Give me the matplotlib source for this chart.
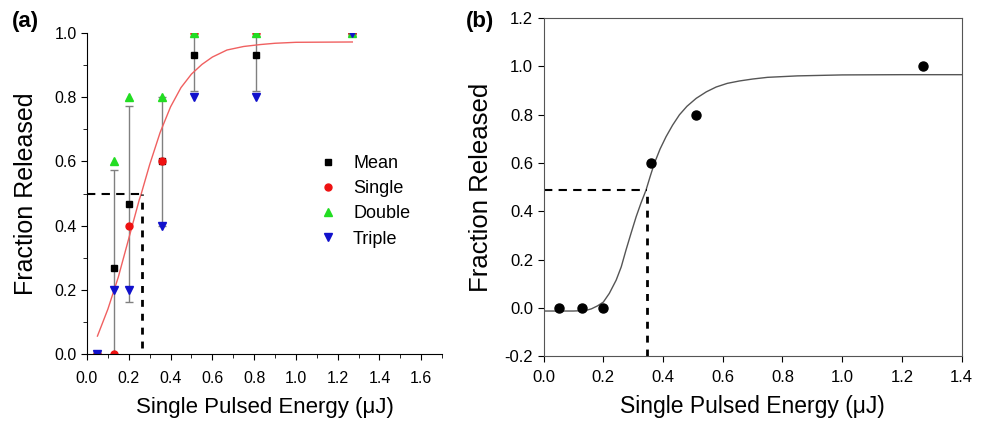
import matplotlib
matplotlib.use("Agg")
import matplotlib.pyplot as plt
from matplotlib.ticker import MultipleLocator

plt.rcParams['font.family'] = ['Liberation Sans', 'DejaVu Sans']

# ---- panel (a) data ----
energy = [0.05, 0.13, 0.20, 0.36, 0.51, 0.81, 1.27]
mean = [0.0, 0.267, 0.467, 0.6, 0.933, 0.933, 1.0]
mean_err = [0.0, 0.306, 0.306, 0.2, 0.115, 0.115, 0.0]
single = [0.0, 0.0, 0.4, 0.6, 1.0, 1.0, 1.0]
double = [0.0, 0.6, 0.8, 0.8, 1.0, 1.0, 1.0]
triple = [0.0, 0.2, 0.2, 0.4, 0.8, 0.8, 1.0]

# fitted curve
fit_a_x = [0.05, 0.10, 0.13, 0.15, 0.20, 0.25, 0.26, 0.30, 0.35, 0.40, 0.45,
           0.50, 0.55, 0.60, 0.67, 0.75, 0.83, 0.90, 1.00, 1.27]
fit_a_y = [0.056, 0.14, 0.20, 0.24, 0.36, 0.48, 0.50, 0.59, 0.69, 0.77, 0.83,
           0.872, 0.902, 0.925, 0.947, 0.958, 0.964, 0.968, 0.971, 0.972]
half_a = (0.265, 0.5)

# ---- panel (b) data ----
energy_b = [0.05, 0.13, 0.20, 0.36, 0.51, 1.27]
frac_b = [0.0, 0.0, 0.0, 0.6, 0.8, 1.0]
fit_b_x = [0.0, 0.10, 0.14, 0.16, 0.18, 0.20, 0.22, 0.243, 0.26, 0.276, 0.293,
           0.31, 0.326, 0.343, 0.357, 0.371, 0.39, 0.41, 0.432, 0.455, 0.48,
           0.511, 0.545, 0.578, 0.615, 0.656, 0.70, 0.75, 0.85, 1.0, 1.2, 1.4]
fit_b_y = [-0.013, -0.013, -0.011, -0.004, 0.008, 0.024, 0.06, 0.115, 0.17, 0.24, 0.31,
           0.378, 0.434, 0.488, 0.545, 0.599, 0.658, 0.709, 0.757, 0.80, 0.835,
           0.868, 0.895, 0.915, 0.93, 0.94, 0.948, 0.955, 0.961, 0.965, 0.966, 0.966]
half_b = (0.345, 0.49)

fig = plt.figure(figsize=(9.92, 4.23), dpi=100)

# ----- (a) -----
ax = fig.add_axes([0.0877, 0.163, 0.358, 0.759])
ax.errorbar(energy, mean, yerr=mean_err, fmt='none', ecolor='#808080',
            elinewidth=1.0, capsize=3, capthick=1.0)
ax.plot(fit_a_x, fit_a_y, color='#f06060', lw=1.0)
ax.plot([0, half_a[0]], [half_a[1], half_a[1]], '--', color='black', lw=1.5, dashes=(4, 3))
ax.plot([half_a[0], half_a[0]], [0.02, half_a[1]], '--', color='black', lw=2.0, dashes=(2.5, 2.5))
ax.plot(energy, mean, 's', color='black', ms=4.5, label='Mean')
ax.plot(energy, single, 'o', color='#ee1111', ms=5, label='Single')
ax.plot(energy, double, '^', color='#22dd22', ms=5.5, label='Double')
ax.plot(energy, triple, 'v', color='#1111cc', ms=5.5, label='Triple')

ax.set_xlim(0, 1.7)
ax.set_ylim(0, 1.0)
ax.spines['top'].set_visible(False)
ax.spines['right'].set_visible(False)
ax.spines['bottom'].set_bounds(0, 1.7)
ax.xaxis.set_major_locator(MultipleLocator(0.2))
ax.xaxis.set_minor_locator(MultipleLocator(0.1))
ax.yaxis.set_major_locator(MultipleLocator(0.2))
ax.yaxis.set_minor_locator(MultipleLocator(0.1))
ax.xaxis.set_major_formatter(plt.FormatStrFormatter('%.1f'))
ax.yaxis.set_major_formatter(plt.FormatStrFormatter('%.1f'))
ax.tick_params(which='major', direction='out', length=4, labelsize=11.5)
ax.tick_params(axis='x', which='major', pad=8)
ax.tick_params(which='minor', direction='out', length=3)
ax.set_xlabel('Single Pulsed Energy (\u03bcJ)', fontsize=16, labelpad=8)
ax.set_ylabel('Fraction Released', fontsize=18, labelpad=12)
ax.legend(loc='upper left', bbox_to_anchor=(0.607, 0.67), frameon=False, fontsize=13,
          handletextpad=0.9, labelspacing=0.45, handlelength=1.0)
fig.text(0.012, 0.935, '(a)', fontsize=16, fontweight='bold')

# ----- (b) -----
bx = fig.add_axes([0.548, 0.158, 0.4214, 0.799])
bx.plot(fit_b_x, fit_b_y, color='#555555', lw=1.0)
bx.plot([0, half_b[0]], [half_b[1], half_b[1]], '--', color='black', lw=1.5, dashes=(4, 3))
bx.plot([half_b[0], half_b[0]], [-0.2, half_b[1]], '--', color='black', lw=2.0, dashes=(2.5, 2.5))
bx.plot(energy_b, frac_b, 'o', color='black', ms=6.5)
bx.set_xlim(0, 1.4)
bx.set_ylim(-0.2, 1.2)
bx.xaxis.set_major_locator(MultipleLocator(0.2))
bx.yaxis.set_major_locator(MultipleLocator(0.2))
bx.xaxis.set_major_formatter(plt.FormatStrFormatter('%.1f'))
bx.yaxis.set_major_formatter(plt.FormatStrFormatter('%.1f'))
bx.tick_params(direction='out', length=4, labelsize=12)
bx.tick_params(axis='x', pad=6)
for s in bx.spines.values():
    s.set_color('#555555')
bx.set_xlabel('Single Pulsed Energy (\u03bcJ)', fontsize=16.5, labelpad=7)
bx.set_ylabel('Fraction Released', fontsize=18.5, labelpad=8)
fig.text(0.470, 0.935, '(b)', fontsize=16, fontweight='bold')

fig.savefig('out.png', dpi=100)
